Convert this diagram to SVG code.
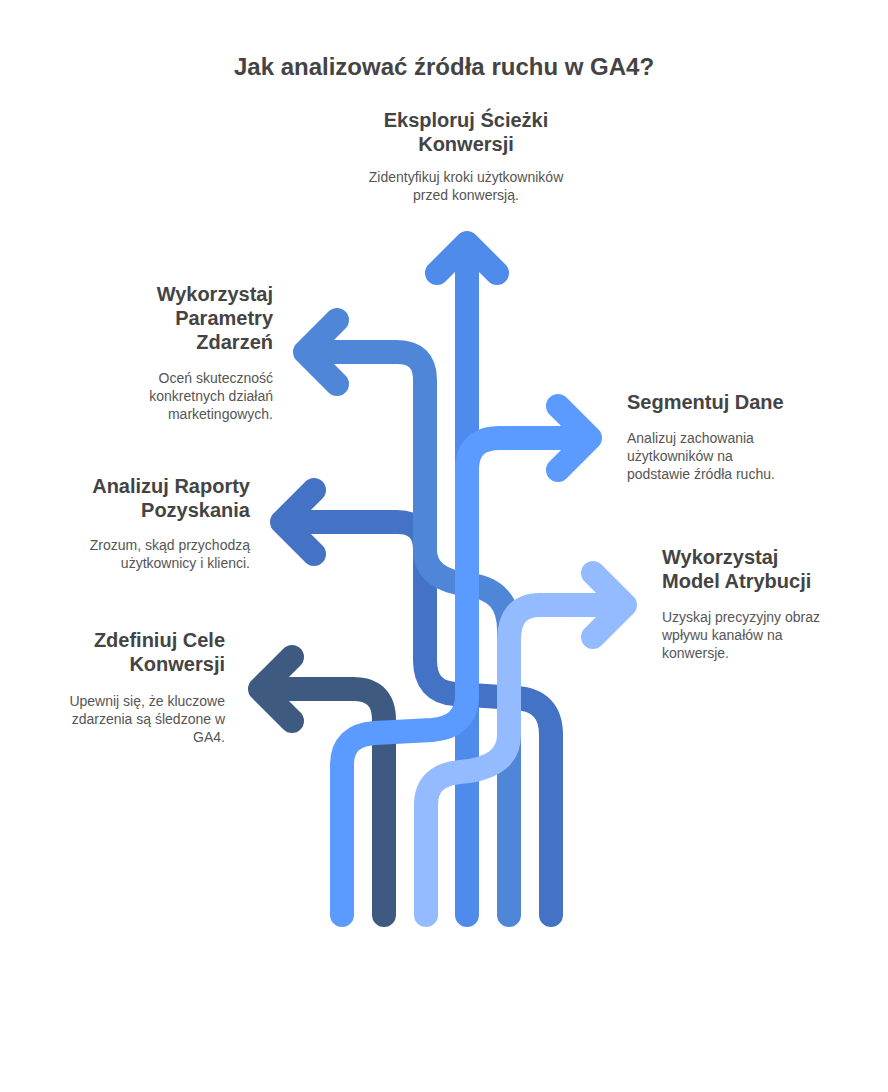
<svg xmlns="http://www.w3.org/2000/svg" width="888" height="1092" viewBox="0 0 888 1092">
<style>
.p{fill:none;stroke-width:24;stroke-linecap:round;stroke-linejoin:round}
.t{font-family:"Liberation Sans",Arial,sans-serif;font-weight:bold;font-size:20px;fill:#444}
.d{font-family:"Liberation Sans",Arial,sans-serif;font-size:14px;fill:#555}
.r{text-anchor:end}.c{text-anchor:middle}
</style>
<rect width="888" height="1092" fill="#fff"/>
<text x="444" y="75" class="t c" font-size="24" style="font-size:24px">Jak analizować źródła ruchu w GA4?</text>
<g id="connectors">
<path class="p" stroke="#4472c4" d="M551 915 V735 Q551 700 516 698 L455 694 Q425 692 425 660 V550 Q425 522 397 522 H282 M314 490 L282 522 L314 554"/>
<path class="p" stroke="#4f86d8" d="M509 915 V630 Q509 590 470 585 Q425 580 425 550 V380 Q425 352 397 352 H305 M337 320 L305 352 L337 384"/>
<path class="p" stroke="#3f5a80" d="M384 915 V720 Q384 689 353 689 H260 M292 657 L260 689 L292 721"/>
<path class="p" stroke="#4f8bea" d="M467 915 V245 M437 273 L467 243 L497 273"/>
<path class="p" stroke="#94bbff" d="M426 915 V805 Q426 775 460 772 Q509 768 509 735 V640 Q509 605 540 605 H625 M593 573 L625 605 L593 637"/>
<path class="p" stroke="#5b9aff" d="M342 915 V765 Q342 735 375 733 L432 730 Q467 727 467 695 V470 Q467 438 500 438 H590 M558 406 L590 438 L558 470"/>
</g>
<g id="n1"><text x="466" y="127" class="t c">Eksploruj Ścieżki</text><text x="466" y="151" class="t c">Konwersji</text>
<text x="466" y="182" class="d c">Zidentyfikuj kroki użytkowników</text><text x="466" y="200" class="d c">przed konwersją.</text></g>
<g id="n2"><text x="273" y="301" class="t r">Wykorzystaj</text><text x="273" y="325" class="t r">Parametry</text><text x="273" y="349" class="t r">Zdarzeń</text>
<text x="273" y="383" class="d r">Oceń skuteczność</text><text x="273" y="401" class="d r">konkretnych działań</text><text x="273" y="419" class="d r">marketingowych.</text></g>
<g id="n3"><text x="627" y="409" class="t">Segmentuj Dane</text>
<text x="627" y="443" class="d">Analizuj zachowania</text><text x="627" y="461" class="d">użytkowników na</text><text x="627" y="479" class="d">podstawie źródła ruchu.</text></g>
<g id="n4"><text x="250" y="493" class="t r">Analizuj Raporty</text><text x="250" y="517" class="t r">Pozyskania</text>
<text x="250" y="550" class="d r">Zrozum, skąd przychodzą</text><text x="250" y="568" class="d r">użytkownicy i klienci.</text></g>
<g id="n5"><text x="662" y="564" class="t">Wykorzystaj</text><text x="662" y="588" class="t">Model Atrybucji</text>
<text x="662" y="622" class="d">Uzyskaj precyzyjny obraz</text><text x="662" y="640" class="d">wpływu kanałów na</text><text x="662" y="658" class="d">konwersje.</text></g>
<g id="n6"><text x="225" y="647" class="t r">Zdefiniuj Cele</text><text x="225" y="671" class="t r">Konwersji</text>
<text x="225" y="706" class="d r">Upewnij się, że kluczowe</text><text x="225" y="724" class="d r">zdarzenia są śledzone w</text><text x="225" y="742" class="d r">GA4.</text></g>
</svg>
